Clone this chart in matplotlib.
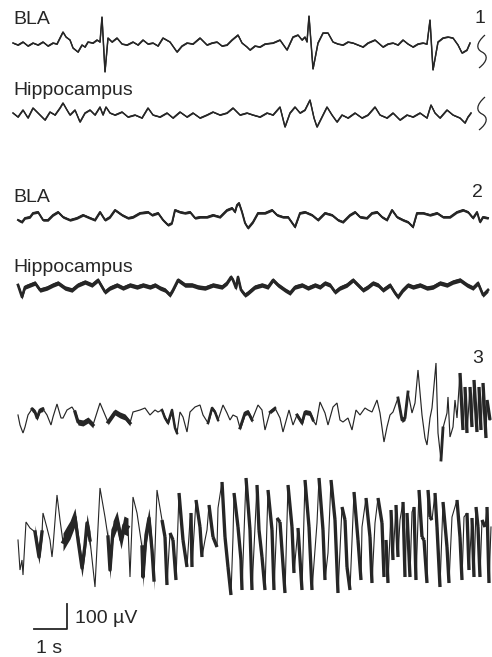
import numpy as np
import matplotlib
matplotlib.use("Agg")
import matplotlib.pyplot as plt
from matplotlib.path import Path
from matplotlib.patches import PathPatch
from matplotlib.collections import LineCollection

plt.rcParams['font.family'] = ['Liberation Sans', 'DejaVu Sans']

# ---- data: key points (time in s, amplitude in uV) ----

# panel 1, BLA
bla1_t = [0.00, 0.15, 0.30, 0.45, 0.60, 0.75, 0.90, 1.05, 1.20, 1.32, 1.41, 1.50, 1.59, 1.71, 1.80,
          1.95, 2.07, 2.16, 2.25, 2.40, 2.52, 2.61, 2.67, 2.76, 2.85, 2.97, 3.12, 3.27, 3.42, 3.60,
          3.75, 3.90, 4.05, 4.20, 4.35, 4.50, 4.71, 4.92, 5.07, 5.22, 5.40, 5.61, 5.82, 5.97, 6.12,
          6.27, 6.42, 6.57, 6.75, 6.87, 7.02, 7.11, 7.26, 7.41, 7.56, 7.80, 8.01, 8.22, 8.40, 8.55,
          8.67, 8.76, 8.82, 8.88, 9.00, 9.15, 9.30, 9.45, 9.60, 9.75, 9.90, 10.05, 10.20, 10.35,
          10.50, 10.65, 10.86, 11.10, 11.25, 11.40, 11.55, 11.70, 11.85, 12.00, 12.15, 12.30, 12.42,
          12.51, 12.60, 12.75, 12.90, 13.05, 13.20, 13.35, 13.47, 13.62, 13.71]
bla1_v = [4, -4, 8, -8, 4, -4, 8, -8, 4, 0, 24, 48, 28, 16, -16,
          -32, -4, -12, 8, 4, 16, 8, 108, -112, 24, 8, 24, 0, -4, 8,
          -4, 16, 0, 4, -8, 24, 8, -32, -8, 4, 0, 24, -4, 4, 8,
          -8, -4, 16, 36, 4, -12, -24, -8, -12, 0, 4, 16, -24, 28, 36,
          16, 28, 8, 112, -100, 4, 44, 44, 8, 0, -4, 8, 4, -4,
          -12, 4, 16, -12, 0, 4, -4, 16, 0, -12, 0, 4, 0,
          96, -104, 8, 24, 28, 24, -4, -36, -24, 4]

# panel 1, hippocampus
hip1_t = [0.00, 0.15, 0.30, 0.45, 0.60, 0.81, 0.96, 1.11, 1.26, 1.41, 1.50, 1.62, 1.71, 1.86, 2.01,
          2.16, 2.31, 2.46, 2.61, 2.70, 2.79, 2.91, 3.06, 3.27, 3.45, 3.66, 3.87, 4.05, 4.20, 4.41,
          4.62, 4.80, 5.01, 5.22, 5.40, 5.61, 5.82, 6.00, 6.21, 6.42, 6.60, 6.81, 7.02, 7.20, 7.41,
          7.62, 7.80, 8.01, 8.16, 8.31, 8.46, 8.61, 8.76, 8.91, 9.03, 9.12, 9.27, 9.42, 9.57, 9.72,
          9.87, 10.05, 10.26, 10.47, 10.65, 10.86, 11.01, 11.22, 11.40, 11.61, 11.82, 12.00, 12.21,
          12.42, 12.54, 12.66, 12.81, 13.02, 13.20, 13.41, 13.56, 13.65, 13.74]
hip1_v = [12, -4, 24, -8, 32, 4, -16, 16, 4, 32, 52, 24, 4, 24, -24,
          12, 24, 4, 36, 4, 36, 12, 4, 16, -4, 4, -8, 32, 4, -4,
          12, -8, 16, -4, 12, -8, 4, 16, 4, 12, 32, 4, 12, 4, -4,
          12, 4, 36, -44, 12, 36, 12, 24, 64, -8, -44, -4, 36, 4, -24,
          4, -8, 12, -8, 4, 36, 4, -8, 12, -16, 4, -4, 12,
          -8, 44, 12, -8, 24, 4, -8, -28, -4, 12]

# panel 2, BLA
bla2_t = [0.15, 0.27, 0.36, 0.51, 0.60, 0.75, 0.90, 1.05, 1.20, 1.35, 1.50, 1.71, 1.92, 2.10, 2.31,
          2.46, 2.61, 2.76, 2.91, 3.06, 3.27, 3.45, 3.60, 3.81, 4.05, 4.17, 4.35, 4.50, 4.65, 4.77,
          4.86, 5.01, 5.16, 5.31, 5.46, 5.61, 5.82, 6.00, 6.21, 6.42, 6.57, 6.66, 6.72, 6.78, 6.87,
          6.96, 7.05, 7.20, 7.35, 7.56, 7.77, 7.92, 8.10, 8.25, 8.46, 8.61, 8.76, 8.97, 9.15, 9.36,
          9.57, 9.75, 9.90, 10.11, 10.26, 10.41, 10.62, 10.77, 10.92, 11.07, 11.22, 11.37, 11.52,
          11.70, 11.85, 12.00, 12.12, 12.30, 12.51, 12.72, 12.90, 13.11, 13.32, 13.50, 13.65, 13.80,
          13.92, 14.01, 14.10, 14.25]
bla2_v = [-12, -20, -4, 0, 16, 20, -12, -12, 8, 20, 0, -12, -4, 8, -4,
          -12, 20, -12, 0, 28, 8, -4, 0, 16, 20, 8, 16, -12, -32, -24,
          28, 20, 16, 20, -4, 0, 0, 8, 0, 28, 36, 20, 48, 56, 20,
          -24, -44, -20, 16, 16, 28, 8, 0, 0, -40, 16, 20, 8, -12, 16,
          8, -12, -20, 8, 20, 0, -4, 16, 20, 0, -12, 28, 0,
          -12, -20, -40, 16, 16, 8, 16, 0, 0, 20, 28, 20, -4,
          20, -20, 0, -4]

# panel 2, hippocampus
hip2_t = [0.15, 0.27, 0.36, 0.51, 0.66, 0.81, 1.02, 1.20, 1.35, 1.56, 1.77, 1.95, 2.16, 2.37, 2.55,
          2.76, 2.91, 3.12, 3.30, 3.51, 3.72, 3.90, 4.11, 4.26, 4.41, 4.56, 4.71, 4.80, 4.95, 5.16,
          5.37, 5.55, 5.76, 6.00, 6.27, 6.42, 6.54, 6.60, 6.69, 6.75, 6.84, 6.96, 7.05, 7.26, 7.47,
          7.65, 7.80, 7.95, 8.16, 8.31, 8.46, 8.67, 8.85, 9.06, 9.21, 9.36, 9.51, 9.66, 9.81, 10.02,
          10.20, 10.35, 10.50, 10.65, 10.80, 10.95, 11.10, 11.31, 11.46, 11.55, 11.70, 11.85, 12.00,
          12.21, 12.42, 12.60, 12.81, 13.02, 13.20, 13.41, 13.62, 13.80, 13.95, 14.10, 14.25]
hip2_v = [12, -36, 4, 12, 20, -8, 0, 12, 20, 0, -8, 12, 24, 12, 32,
          -16, 0, 12, 0, 12, 4, 12, 4, 12, 0, -8, -28, -8, 32, 12,
          12, 4, 0, 12, 4, 20, 44, 32, 0, 44, -8, -28, -20, 4, 12,
          4, 32, 12, -8, -20, 4, 12, 0, 12, 4, 20, 12, -16, 0, 12,
          32, 12, -8, 4, 20, 12, -8, 12, -20, -36, -8, 12, 4,
          12, 0, 4, 20, 12, 24, 32, 12, 0, 20, -28, -8]

# panel 3, upper trace
p3a_t = [0.15, 0.21, 0.30, 0.36, 0.45, 0.57, 0.66, 0.72, 0.81, 0.90, 1.02, 1.14, 1.20, 1.32, 1.44,
         1.50, 1.62, 1.77, 1.86, 1.95, 2.10, 2.25, 2.40, 2.61, 2.76, 2.85, 3.06, 3.21, 3.36, 3.51,
         3.60, 3.81, 3.96, 4.11, 4.26, 4.35, 4.47, 4.56, 4.65, 4.77, 4.86, 4.92, 5.01, 5.10, 5.22,
         5.31, 5.46, 5.61, 5.70, 5.85, 5.97, 6.06, 6.15, 6.30, 6.42, 6.51, 6.60, 6.72, 6.81, 6.96,
         7.05, 7.17, 7.35, 7.47, 7.56, 7.71, 7.86, 8.01, 8.10, 8.28, 8.40, 8.52, 8.67, 8.76, 8.91,
         9.00, 9.09, 9.21, 9.36, 9.45, 9.60, 9.72, 9.81, 9.90, 10.05, 10.17, 10.29, 10.41, 10.56,
         10.65, 10.77, 10.92, 11.01, 11.13, 11.22, 11.31, 11.40, 11.55, 11.67, 11.76, 11.85, 11.97,
         12.06, 12.15, 12.27, 12.36, 12.42, 12.51, 12.57, 12.69, 12.75, 12.84, 12.90, 13.02, 13.05,
         13.11, 13.20, 13.26, 13.32, 13.41, 13.50, 13.56, 13.62, 13.71, 13.77, 13.83, 13.92, 13.98,
         14.04, 14.10, 14.19, 14.22, 14.31]
p3a_v = [0, -40, -72, -48, 0, 24, 12, -12, 20, 24, 0, -40, -8, 44, -12,
         -12, 20, 32, 12, -28, -32, -20, -40, 48, 0, -28, 12, 0, -8, -32,
         12, 20, 28, 0, 20, 12, 20, -12, -32, 20, -52, -72, 12, -8, -68,
         12, 32, 40, 0, -32, 28, 12, -20, 40, 8, -20, 0, -8, -52, 8,
         12, -20, 40, 20, -60, 12, 28, -12, -68, 20, -40, 0, -32, 12, 8,
         -20, -40, 52, 8, -40, 32, 48, -20, -28, -12, -60, 20, 0, 28,
         20, 12, 60, 8, -108, -48, 0, 12, 68, -20, -12, 92, 8,
         48, 180, 0, -92, -120, -12, 28, 208, -72, -180, -52, 8, 72,
         -88, -48, 60, -12, 168, -60, 112, -72, 112, -48, 140, -68, 112,
         -60, 128, -92, 60, -20]

# panel 3, lower trace
p3b_t = [0.15, 0.21, 0.27, 0.30, 0.39, 0.51, 0.66, 0.78, 0.87, 0.90, 1.02, 1.11, 1.17, 1.20, 1.32,
         1.41, 1.50, 1.62, 1.71, 1.86, 1.95, 2.07, 2.16, 2.22, 2.31, 2.46, 2.61, 2.76, 2.85, 2.91,
         3.00, 3.12, 3.24, 3.33, 3.45, 3.51, 3.60, 3.72, 3.87, 3.90, 3.99, 4.08, 4.17, 4.23, 4.32,
         4.47, 4.56, 4.62, 4.71, 4.80, 4.89, 4.98, 5.10, 5.22, 5.31, 5.34, 5.37, 5.49, 5.61, 5.67,
         5.76, 5.82, 5.88, 6.00, 6.12, 6.15, 6.27, 6.36, 6.45, 6.54, 6.60, 6.63, 6.75, 6.84, 6.87,
         6.99, 7.11, 7.17, 7.32, 7.38, 7.47, 7.56, 7.65, 7.77, 7.83, 7.92, 8.01, 8.16, 8.25, 8.37,
         8.43, 8.55, 8.67, 8.76, 8.88, 8.97, 9.12, 9.18, 9.30, 9.36, 9.45, 9.54, 9.66, 9.75, 9.87,
         9.96, 10.02, 10.11, 10.23, 10.35, 10.44, 10.47, 10.59, 10.71, 10.77, 10.86, 10.95, 11.07,
         11.13, 11.19, 11.25, 11.34, 11.40, 11.49, 11.55, 11.61, 11.70, 11.76, 11.82, 11.91, 11.97,
         12.03, 12.09, 12.18, 12.27, 12.33, 12.42, 12.45, 12.51, 12.57, 12.66, 12.72, 12.81, 12.90,
         13.02, 13.08, 13.17, 13.32, 13.41, 13.47, 13.53, 13.62, 13.68, 13.77, 13.83, 13.89, 13.95,
         14.01, 14.07, 14.16, 14.22, 14.28, 14.34]
p3b_v = [0, -120, -80, -140, 72, 48, 32, -68, 32, 108, 48, 0, -68, -28, 180,
         80, -8, 20, 40, 92, 0, -112, -20, 68, 0, -188, 208, 92, 12, -120,
         40, 80, 0, 60, 52, -148, 172, 108, -28, -148, 20, 88, -40, -160, 200,
         80, 12, -180, 28, 0, -160, 188, 0, -108, 80, 108, -108, 160, 52, -68,
         0, 40, 140, 12, -28, 128, 232, 12, -108, -220, 12, 188, 52, -80, -200,
         248, 40, -200, 220, 40, -68, -200, 200, 40, -200, 88, 72, -212, 220, 52,
         -132, 48, -200, 240, 52, -200, 68, 248, 40, -160, -52, 240, 80, -212, 132,
         80, -108, -200, 192, 0, -160, 52, 168, 12, -172, 68, 168, 68,
         -148, 0, -172, 120, -80, 140, -68, 80, 152, -148, 108, -148, 112,
         132, -160, 200, 12, 0, -172, 200, 92, 80, 188, 52, -188, 152,
         -28, -172, 92, 160, 12, -160, 92, 108, -120, 88, -148, 132, 52,
         -148, 80, 52, 132, -172, 52]

# stretches with dense fast activity: (start s, end s, half-width uV)
bla1_bands = [(0.0, 13.8, 2)]
hip1_bands = [(0.0, 13.8, 2)]
bla2_bands = [(0.1, 14.3, 5)]
hip2_bands = [(0.1, 14.3, 9)]
p3a_bands = [(0.57, 0.90, 10), (1.86, 2.40, 12), (2.85, 3.51, 12), (4.47, 4.92, 8), (5.85, 6.15, 8),
             (6.81, 7.17, 10), (7.71, 7.92, 8), (8.52, 9.0, 10), (11.55, 11.9, 10), (12.84, 12.95, 10)]
p3b_bands = [(0.66, 0.87, 28), (1.50, 2.31, 36), (2.85, 3.45, 36), (3.87, 4.26, 40)]
# stretches where the falling phase of each wave carries fast activity (start s, end s)
p3a_falling = [(13.4, 14.35)]
p3b_falling = [(4.4, 14.4)]

# ---- layout ----
S_PER_PX = 0.03     # horizontal scale of the figure
UV_PER_PX = 4.0     # vertical scale of the figure
X0 = 13             # left edge of the traces
INK = '#262626'

fig = plt.figure(figsize=(4.92, 6.57), dpi=100)
ax = fig.add_axes([0, 0, 1, 1])
ax.set_xlim(-X0 * S_PER_PX, (492 - X0) * S_PER_PX)
ax.set_ylim(-657 * UV_PER_PX, 0)
ax.axis('off')


def px(x, y):
    # pixel position -> data position, used for labels only
    return (x - X0) * S_PER_PX, -y * UV_PER_PX


def trace(t, v, base_px, bands, falling=(), lw=0.85):
    t = np.asarray(t)
    v = np.asarray(v) - base_px * UV_PER_PX
    ax.plot(t, v, color=INK, lw=lw, solid_joinstyle='miter')
    for a, b, w in bands:
        m = (t >= a) & (t <= b)
        ax.fill_between(t[m], v[m] - w, v[m] + w, color=INK, lw=0)
        ax.plot(t[m], v[m], color=INK, lw=min(0.8 + w / 8.0, 2.4), solid_joinstyle='round')
    for a, b in falling:
        segs = [[(t[i], v[i]), (t[i + 1], v[i + 1])] for i in range(len(t) - 1)
                if a <= t[i] <= b and v[i + 1] < v[i]]
        ax.add_collection(LineCollection(segs, colors=INK, linewidths=2.4, capstyle='butt'))


trace(bla1_t, bla1_v, 44, bla1_bands)
trace(hip1_t, hip1_v, 116, hip1_bands)
trace(bla2_t, bla2_v, 217, bla2_bands)
trace(hip2_t, hip2_v, 288, hip2_bands)
trace(p3a_t, p3a_v, 415, p3a_bands, p3a_falling)
trace(p3b_t, p3b_v, 540, p3b_bands, p3b_falling, lw=0.8)

# break marks at the end of panel 1
for top in (35, 97):
    pts = [px(485, top), px(476, top + 8), px(476, top + 14), px(482, top + 17),
           px(488, top + 20), px(488, top + 26), px(479, top + 33)]
    codes = [Path.MOVETO] + [Path.CURVE4] * 6
    ax.add_patch(PathPatch(Path(pts, codes), fill=False, lw=0.9, ec=INK))

fs = 14
ax.text(*px(13, 24), 'BLA', fontsize=fs, va='baseline', ha='left', color=INK)
ax.text(*px(13, 95), 'Hippocampus', fontsize=fs, va='baseline', ha='left', color=INK)
ax.text(*px(13, 202), 'BLA', fontsize=fs, va='baseline', ha='left', color=INK)
ax.text(*px(13, 272), 'Hippocampus', fontsize=fs, va='baseline', ha='left', color=INK)
ax.text(*px(480, 23), '1', fontsize=fs, va='baseline', ha='center', color=INK)
ax.text(*px(477, 197), '2', fontsize=fs, va='baseline', ha='center', color=INK)
ax.text(*px(478, 363), '3', fontsize=fs, va='baseline', ha='center', color=INK)

# scale bar: 1 s, 100 uV
cx, cy = px(67, 629)
ax.plot([cx - 1.0, cx, cx], [cy, cy, cy + 100], color=INK, lw=1.3)
ax.text(*px(75, 623), '100 µV', fontsize=fs, va='baseline', ha='left', color=INK)
ax.text(*px(36, 653), '1 s', fontsize=fs, va='baseline', ha='left', color=INK)

fig.savefig('out.png', dpi=100)
